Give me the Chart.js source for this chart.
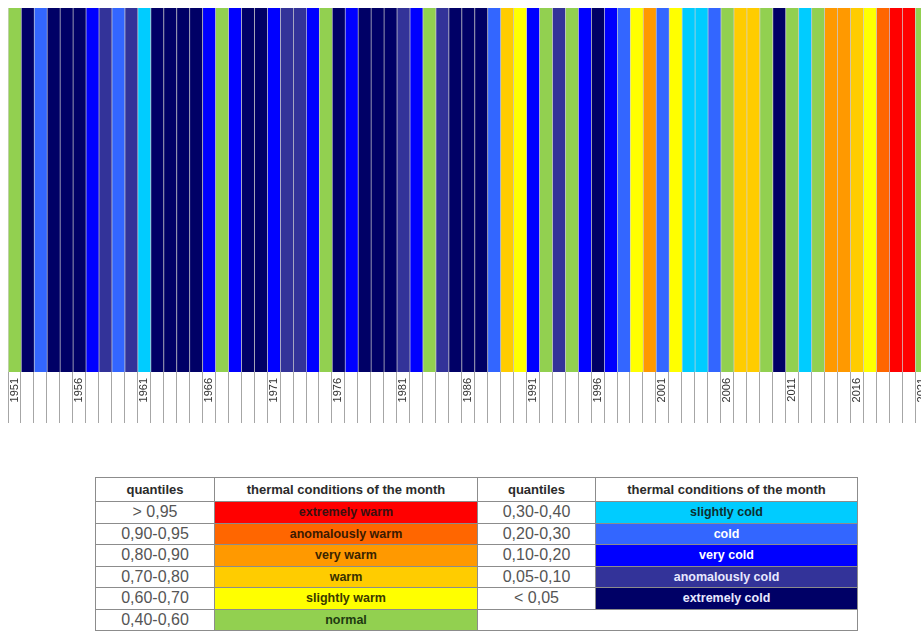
<!DOCTYPE html>
<html>
<head>
<meta charset="utf-8">
<script src="https://cdn.jsdelivr.net/npm/chart.js@4/dist/chart.umd.min.js"></script>
<style>
  body { margin: 0; width: 921px; height: 632px; overflow: hidden; background: #fff; font-family: 'Liberation Sans', Arial, sans-serif; }
  #stripes { position: absolute; left: 0; top: 0; }
  #legendTable { position: absolute; left: 95px; top: 477px; border-collapse: collapse; table-layout: fixed; }
  #legendTable td, #legendTable th { border: 1px solid #8c8c8c; padding: 0; text-align: center; white-space: nowrap; }
  #legendTable th { height: 23px; font-size: 13px; font-weight: bold; color: #2b2b2b; }
  #legendTable td { height: 20.5px; }
  #legendTable td.q { font-size: 16px; color: #555; }
  #legendTable td.cls { font-size: 12.5px; font-weight: bold; }
</style>
</head>
<body>
<canvas id="stripes" width="928" height="426"></canvas>
<table id="legendTable"></table>
<script>
// years shown as bars
const years = [
  1951, 1952, 1953, 1954, 1955, 1956, 1957, 1958, 1959, 1960,
  1961, 1962, 1963, 1964, 1965, 1966, 1967, 1968, 1969, 1970,
  1971, 1972, 1973, 1974, 1975, 1976, 1977, 1978, 1979, 1980,
  1981, 1982, 1983, 1984, 1985, 1986, 1987, 1988, 1989, 1990,
  1991, 1992, 1993, 1994, 1995, 1996, 1997, 1998, 1999, 2000,
  2001, 2002, 2003, 2004, 2005, 2006, 2007, 2008, 2009, 2010,
  2011, 2012, 2013, 2014, 2015, 2016, 2017, 2018, 2019, 2020,
  2021
];

// thermal class of each year (codes below)
const yearClass = [
  'N',  'EC', 'C',  'EC', 'EC', 'EC', 'VC', 'AC', 'C',  'AC',
  'SC', 'EC', 'EC', 'EC', 'EC', 'VC', 'N',  'VC', 'EC', 'EC',
  'VC', 'AC', 'AC', 'VC', 'N',  'EC', 'VC', 'EC', 'EC', 'EC',
  'AC', 'VC', 'N',  'AC', 'EC', 'EC', 'EC', 'C',  'W',  'SW',
  'VC', 'N',  'AC', 'N',  'VC', 'EC', 'VC', 'C',  'SW', 'VW',
  'C',  'SW', 'SC', 'SC', 'C',  'N',  'W',  'W',  'N',  'EC',
  'N',  'SC', 'N',  'VW', 'VW', 'W',  'SW', 'AW', 'EW', 'EW',
  'N'
];

// legend rows
const warmCodes = ['EW', 'AW', 'VW', 'W', 'SW', 'N'];
const coldCodes = ['SC', 'C', 'VC', 'AC', 'EC'];
const classNames = {
  EW: 'extremely warm', AW: 'anomalously warm', VW: 'very warm', W: 'warm',
  SW: 'slightly warm', N: 'normal', SC: 'slightly cold', C: 'cold',
  VC: 'very cold', AC: 'anomalously cold', EC: 'extremely cold'
};
const classQuantiles = {
  EW: '> 0,95', AW: '0,90-0,95', VW: '0,80-0,90', W: '0,70-0,80',
  SW: '0,60-0,70', N: '0,40-0,60', SC: '0,30-0,40', C: '0,20-0,30',
  VC: '0,10-0,20', AC: '0,05-0,10', EC: '< 0,05'
};

// colours
const classColors = {
  EW: '#ff0000', AW: '#ff6600', VW: '#ff9900', W: '#ffcc00', SW: '#ffff00',
  N: '#92d050', SC: '#00ccff', C: '#3366ff', VC: '#0000ff', AC: '#333399', EC: '#000066'
};
const classTextColors = {
  EW: '#3a1010', AW: '#3a1a00', VW: '#3a2400', W: '#3a3000', SW: '#3a3a00',
  N: '#1f3a10', SC: '#0d2f2f', C: '#ffffff', VC: '#ffffff', AC: '#e8e8ff', EC: '#e8e8ff'
};

const ctx = document.getElementById('stripes').getContext('2d');
new Chart(ctx, {
  type: 'bar',
  data: {
    labels: years,
    datasets: [{
      data: years.map(() => 1),
      backgroundColor: yearClass.map(c => classColors[c]),
      borderColor: 'rgba(0,0,0,0.18)',
      borderWidth: { left: 1, right: 0, top: 0, bottom: 0 },
      borderSkipped: false,
      barPercentage: 1,
      categoryPercentage: 1
    }]
  },
  options: {
    responsive: false,
    animation: false,
    layout: { padding: { left: 8, top: 8, right: 0, bottom: 0 } },
    plugins: { legend: { display: false }, tooltip: { enabled: false } },
    scales: {
      y: { display: false, min: 0, max: 1 },
      x: {
        grid: { offset: true, drawOnChartArea: false, tickLength: 51, color: '#a6a6a6' },
        border: { display: false },
        ticks: {
          autoSkip: false,
          maxRotation: 90,
          minRotation: 90,
          padding: -45,
          color: '#333',
          font: { family: 'Liberation Sans', size: 11 },
          callback: function (value, index) {
            return (years[index] - 1951) % 5 === 0 ? String(years[index]) : '';
          }
        },
        afterFit: function (scale) { scale.height = 54; }
      }
    }
  }
});

// legend table
const table = document.getElementById('legendTable');
const colgroup = document.createElement('colgroup');
[119, 263, 118, 262].forEach(w => {
  const col = document.createElement('col');
  col.style.width = w + 'px';
  colgroup.appendChild(col);
});
table.appendChild(colgroup);

const head = document.createElement('tr');
['quantiles', 'thermal conditions of the month', 'quantiles', 'thermal conditions of the month'].forEach(t => {
  const th = document.createElement('th');
  th.textContent = t;
  head.appendChild(th);
});
table.appendChild(head);

function addPair(tr, code) {
  const q = document.createElement('td');
  q.className = 'q';
  q.textContent = classQuantiles[code];
  const c = document.createElement('td');
  c.className = 'cls';
  c.textContent = classNames[code];
  c.style.background = classColors[code];
  c.style.color = classTextColors[code];
  tr.appendChild(q);
  tr.appendChild(c);
}

warmCodes.forEach((code, i) => {
  const tr = document.createElement('tr');
  addPair(tr, code);
  if (i < coldCodes.length) {
    addPair(tr, coldCodes[i]);
  } else {
    const empty = document.createElement('td');
    empty.colSpan = 2;
    tr.appendChild(empty);
  }
  table.appendChild(tr);
});
</script>
</body>
</html>
